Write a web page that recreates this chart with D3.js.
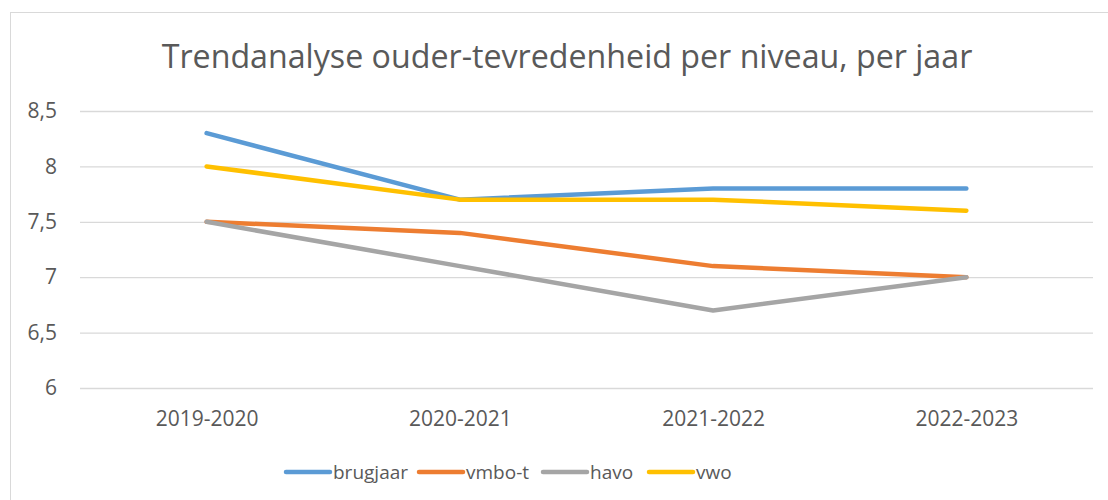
<!DOCTYPE html>
<html lang="nl">
<head>
<meta charset="UTF-8">
<title>Trendanalyse ouder-tevredenheid</title>
<script src="https://d3js.org/d3.v7.min.js"></script>
<style>
  body { margin: 0; background: #fff; }
  text { font-family: "Open Sans", sans-serif; fill: #595959; }
</style>
</head>
<body>
<div id="chart"></div>
<script>
// data
var years = ["2019-2020", "2020-2021", "2021-2022", "2022-2023"];
var brugjaar = [8.3, 7.7, 7.8, 7.8];
var vmbo = [7.5, 7.4, 7.1, 7.0];
var havo = [7.5, 7.1, 6.7, 7.0];
var vwo = [8.0, 7.7, 7.7, 7.6];
var yTicks = [6, 6.5, 7, 7.5, 8, 8.5];

var series = [
  { name: "brugjaar", values: brugjaar, color: "#5B9BD5" },
  { name: "vmbo-t", values: vmbo, color: "#ED7D31" },
  { name: "havo", values: havo, color: "#A5A5A5" },
  { name: "vwo", values: vwo, color: "#FFC000" }
];

var W = 1108, H = 500;
var svg = d3.select("#chart").append("svg").attr("width", W).attr("height", H);

// chart border (runs off the right and bottom edge)
svg.append("rect")
  .attr("x", 10.5).attr("y", 12.5)
  .attr("width", W + 20).attr("height", H + 20)
  .attr("fill", "none").attr("stroke", "#d9d9d9");

// title
svg.append("text")
  .attr("x", 567).attr("y", 68)
  .attr("text-anchor", "middle")
  .style("font-size", "32.2px")
  .text("Trendanalyse ouder-tevredenheid per niveau, per jaar");

var x = d3.scalePoint().domain(years).range([80, 1093]).padding(0.5);
var y = d3.scaleLinear().domain([6, 8.5]).range([388, 111]);

// y axis + gridlines
var yAxis = svg.append("g")
  .attr("transform", "translate(80,0)")
  .call(d3.axisLeft(y)
    .tickValues(yTicks)
    .tickSize(-(1093 - 80))
    .tickPadding(23)
    .tickFormat(function (d) { return String(d).replace(".", ","); }));
yAxis.select(".domain").remove();
yAxis.selectAll("line").attr("stroke", "#d9d9d9").attr("stroke-width", 1.3);
yAxis.selectAll("text").style("font-size", "21px").attr("fill", "#595959");

// x axis labels
var xAxis = svg.append("g")
  .attr("transform", "translate(0,388)")
  .call(d3.axisBottom(x).tickSize(0).tickPadding(23));
xAxis.select(".domain").remove();
xAxis.selectAll("text").style("font-size", "21px").attr("fill", "#595959");

// lines
var line = d3.line()
  .x(function (d, i) { return x(years[i]); })
  .y(function (d) { return y(d); });

svg.selectAll(".serie")
  .data(series)
  .enter()
  .append("path")
  .attr("class", "serie")
  .attr("d", function (d) { return line(d.values); })
  .attr("fill", "none")
  .attr("stroke", function (d) { return d.color; })
  .attr("stroke-width", 4.5)
  .attr("stroke-linecap", "round")
  .attr("stroke-linejoin", "round");

// legend
var legendX = [286, 419, 543, 649];
var legend = svg.selectAll(".legend")
  .data(series)
  .enter()
  .append("g")
  .attr("class", "legend")
  .attr("transform", function (d, i) { return "translate(" + legendX[i] + ",472)"; });
legend.append("line")
  .attr("x1", 0).attr("x2", 44)
  .attr("stroke", function (d) { return d.color; })
  .attr("stroke-width", 4.5)
  .attr("stroke-linecap", "round");
legend.append("text")
  .attr("x", 47).attr("y", 7)
  .style("font-size", "19px")
  .text(function (d) { return d.name; });
</script>
</body>
</html>
